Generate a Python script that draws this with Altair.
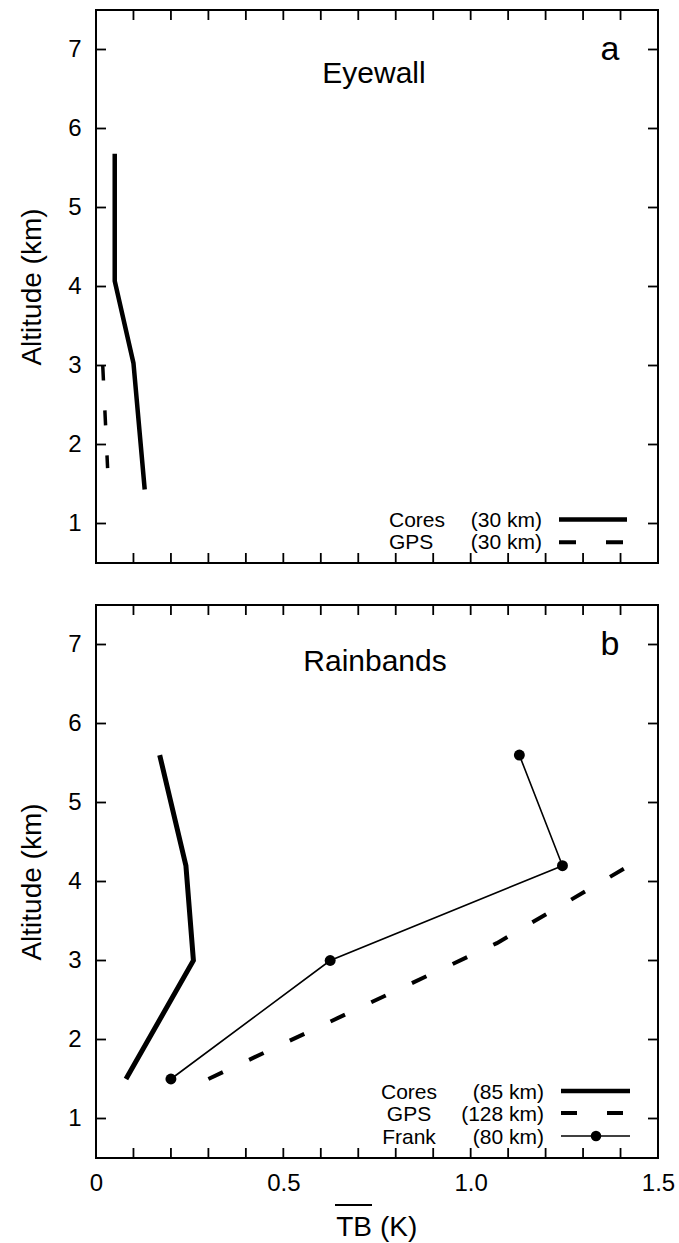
import altair as alt
import pandas as pd

# ---- profile data: mean brightness-temperature depression vs altitude ----
# (a) eyewall
eye_cores_tb = [0.05, 0.05, 0.10, 0.13]
eye_cores_alt = [5.68, 4.07, 3.03, 1.43]
eye_gps_tb = [0.018, 0.031]
eye_gps_alt = [3.0, 1.7]

# (b) rainbands
band_cores_tb = [0.17, 0.24, 0.26, 0.08]
band_cores_alt = [5.6, 4.2, 3.0, 1.5]
band_gps_tb = [0.30, 1.07, 1.43]
band_gps_alt = [1.5, 3.22, 4.22]
band_frank_tb = [1.13, 1.245, 0.625, 0.20]
band_frank_alt = [5.6, 4.2, 3.0, 1.5]

# ---- axis ticks ----
alt_ticks = [1, 2, 3, 4, 5, 6, 7]
tb_ticks = [0.0, 0.1, 0.2, 0.3, 0.4, 0.5, 0.6, 0.7, 0.8, 0.9,
            1.0, 1.1, 1.2, 1.3, 1.4, 1.5]
tb_labels = [0.0, 0.5, 1.0, 1.5]

# ---- legend entries ----
eye_legend_names = ["Cores", "GPS"]
eye_legend_sizes = ["(30 km)", "(30 km)"]
band_legend_names = ["Cores", "GPS", "Frank"]
band_legend_sizes = ["(85 km)", "(128 km)", "(80 km)"]

W, H = 562, 553
FONT = "Liberation Sans"
TICK_LEN = 10
LEG_FS = 21

XS = alt.Scale(domain=[0, 1.5], nice=False, zero=False)
YS = alt.Scale(domain=[0.5, 7.5], nice=False, zero=False)

Y_AXIS = alt.Axis(
    values=alt_ticks, ticks=False, tickSize=0, domain=False, grid=False,
    labelPadding=15, labelFontSize=24, labelFont=FONT, labelColor="black",
    labelFlush=False, format="d",
    title="Altitude (km)", titleFont=FONT, titleFontSize=28,
    titleFontWeight="normal", titleColor="black", titlePadding=21,
)
X_AXIS_B = alt.Axis(
    values=tb_labels, ticks=False, tickSize=0, domain=False, grid=False,
    labelPadding=13, labelFontSize=24, labelFont=FONT, labelColor="black",
    labelFlush=False, labelOverlap=False,
    labelExpr="datum.value == 0 ? '0' : format(datum.value, '.1f')",
    title=None,
)


def profile(tb, km):
    return pd.DataFrame({"tb": tb, "alt": km, "i": list(range(len(tb)))})


def xy(x_axis):
    return dict(
        x=alt.X("tb:Q", scale=XS, axis=x_axis),
        y=alt.Y("alt:Q", scale=YS, axis=Y_AXIS),
    )


def curve(tb, km, x_axis, **style):
    return alt.Chart(profile(tb, km)).mark_line(color="black", **style).encode(
        order="i:O", **xy(x_axis)
    )


def frame_ticks(x_axis):
    ydf = pd.DataFrame({"alt": alt_ticks})
    xdf = pd.DataFrame({"tb": tb_ticks})
    rule = dict(color="black", strokeWidth=1.8)
    yenc = alt.Y("alt:Q", scale=YS, axis=Y_AXIS)
    xenc = alt.X("tb:Q", scale=XS, axis=x_axis)
    left = alt.Chart(ydf).mark_rule(**rule).encode(
        y=yenc, x=alt.value(0), x2=alt.value(TICK_LEN))
    right = alt.Chart(ydf).mark_rule(**rule).encode(
        y=yenc, x=alt.value(W - TICK_LEN), x2=alt.value(W))
    bottom = alt.Chart(xdf).mark_rule(**rule).encode(
        x=xenc, y=alt.value(H - TICK_LEN), y2=alt.value(H))
    top = alt.Chart(xdf).mark_rule(**rule).encode(
        x=xenc, y=alt.value(0), y2=alt.value(TICK_LEN))
    return [left, right, bottom, top]


def text(s, x, y, size, align="center"):
    return alt.Chart().mark_text(
        text=s, font=FONT, fontSize=size, color="black",
        align=align, baseline="alphabetic",
    ).encode(x=alt.value(x), y=alt.value(y))


def seg(x0, x1, y, **style):
    return alt.Chart().mark_rule(color="black", **style).encode(
        x=alt.value(x0), x2=alt.value(x1), y=alt.value(y))


# ---------------- panel (a): eyewall ----------------
eye_rows = [509.5, 532.2]
panel_a_layers = frame_ticks(None) + [
    curve(eye_cores_tb, eye_cores_alt, None, strokeWidth=4.5),
    curve(eye_gps_tb, eye_gps_alt, None, strokeWidth=3.5, strokeDash=[15, 30]),
    text("Eyewall", 278, 73, 30),
    text("a", 514, 50, 34),
    seg(463, 531, eye_rows[0], strokeWidth=4.5),
    seg(463, 527, eye_rows[1], strokeWidth=4, strokeDash=[17, 30]),
]
for name, size, ry in zip(eye_legend_names, eye_legend_sizes, eye_rows):
    panel_a_layers.append(text(name, 293, ry + 7, LEG_FS, align="left"))
    panel_a_layers.append(text(size, 446, ry + 7, LEG_FS, align="right"))

panel_a = alt.layer(*panel_a_layers).properties(width=W, height=H)

# ---------------- panel (b): rainbands ----------------
band_rows = [486, 508, 531]
frank_df = profile(band_frank_tb, band_frank_alt)
panel_b_layers = frame_ticks(X_AXIS_B) + [
    curve(band_cores_tb, band_cores_alt, X_AXIS_B, strokeWidth=5),
    curve(band_gps_tb, band_gps_alt, X_AXIS_B, strokeWidth=4, strokeDash=[16, 29]),
    curve(band_frank_tb, band_frank_alt, X_AXIS_B, strokeWidth=1.6),
    alt.Chart(frank_df).mark_point(filled=True, color="black", size=120, opacity=1).encode(
        **xy(X_AXIS_B)),
    text("Rainbands", 279, 66, 30),
    text("b", 514, 50, 34),
    seg(465, 534, band_rows[0], strokeWidth=4.5),
    seg(465, 527, band_rows[1], strokeWidth=4, strokeDash=[16, 30]),
    seg(465, 534, band_rows[2], strokeWidth=1.6),
    alt.Chart().mark_point(filled=True, color="black", size=110, opacity=1).encode(
        x=alt.value(500), y=alt.value(band_rows[2])),
    # x-axis title: TB with an overbar, then the unit
    text("TB", 276, H + 78, 28, align="right"),
    text("(K)", 284, H + 78, 28, align="left"),
    seg(239, 276, H + 47, strokeWidth=2),
]
for name, size, ry in zip(band_legend_names, band_legend_sizes, band_rows):
    panel_b_layers.append(text(name, 313, ry + 8, LEG_FS, align="center"))
    panel_b_layers.append(text(size, 448, ry + 8, LEG_FS, align="right"))

panel_b = alt.layer(*panel_b_layers).properties(width=W, height=H)

chart = (
    alt.vconcat(panel_a, panel_b, spacing=38)
    .properties(
        padding={"left": 17, "top": 8, "right": 0, "bottom": 0},
        background="white",
    )
    .configure_view(stroke="black", strokeWidth=2)
)

chart.save("out.html", embed_options={"renderer": "svg", "actions": False})
